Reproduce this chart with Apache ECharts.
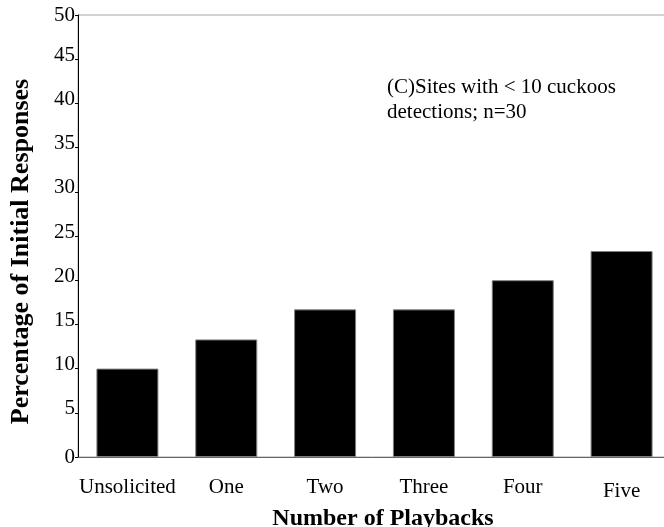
<!DOCTYPE html>
<html>
<head>
<meta charset="utf-8">
<script src="https://cdn.jsdelivr.net/npm/echarts@6/dist/echarts.min.js"></script>
<style>html,body{margin:0;padding:0;background:#fff}#c{width:664px;height:527px}</style>
</head>
<body>
<div id="c"></div>
<script>
const categories = ['Unsolicited', 'One', 'Two', 'Three', 'Four', 'Five'];
const percentages = [10.0, 13.3, 16.7, 16.7, 20.0, 23.3];
const yTicks = [0, 5, 10, 15, 20, 25, 30, 35, 40, 45, 50];
const annotation = ['(C)Sites with < 10 cuckoos', 'detections; n=30'];
const xName = 'Number of Playbacks';
const yName = 'Percentage of Initial Responses';

const serif = '"Liberation Serif", "DejaVu Serif", serif';
const chart = echarts.init(document.getElementById('c'), null, {renderer: 'canvas'});
chart.setOption({
  animation: false,
  backgroundColor: '#fff',
  grid: {
    left: 78, top: 15, width: 593, height: 442,
    outerBoundsMode: 'none', containLabel: false,
    show: true, borderColor: '#a6a6a6', borderWidth: 1, backgroundColor: 'transparent'
  },
  xAxis: {
    type: 'category',
    data: categories,
    name: xName,
    nameLocation: 'middle',
    nameGap: 43,
    nameTextStyle: {fontFamily: serif, fontWeight: 'bold', fontSize: 24, color: '#000', padding: [0, 0, 0, 17]},
    axisLine: {lineStyle: {color: '#666', width: 1}},
    axisTick: {length: 5, lineStyle: {color: '#333'}},
    axisLabel: {
      interval: 0, fontFamily: serif, fontSize: 21, color: '#000', margin: 20,
      formatter: v => v === categories[categories.length - 1] ? '{f|' + v + '}' : v,
      rich: {f: {fontFamily: serif, fontSize: 21, color: '#000', padding: [4, 0, 0, 0]}}
    }
  },
  yAxis: {
    type: 'value',
    min: yTicks[0],
    max: yTicks[yTicks.length - 1],
    interval: yTicks[1] - yTicks[0],
    name: yName,
    nameLocation: 'middle',
    nameGap: 44,
    nameTextStyle: {fontFamily: serif, fontWeight: 'bold', fontSize: 26, color: '#000', padding: [0, 31, 0, 0]},
    splitLine: {show: false},
    axisLine: {show: true, lineStyle: {color: '#000', width: 1}},
    axisTick: {show: true, length: 3, lineStyle: {color: '#000'}},
    axisLabel: {
      fontFamily: serif, fontSize: 21, color: '#000', margin: 3,
      formatter: v => (v === yTicks[0] || v === yTicks[yTicks.length - 1]) ? '{m|' + v + '}' : '{u|' + v + '}',
      rich: {
        m: {fontFamily: serif, fontSize: 21, color: '#000'},
        u: {fontFamily: serif, fontSize: 21, color: '#000', padding: [0, 0, 8, 0]}
      }
    }
  },
  graphic: [{
    type: 'text',
    left: 387,
    top: 75,
    style: {text: annotation.join('\n'), font: '21px ' + serif, fill: '#000', lineHeight: 25}
  }],
  series: [{
    type: 'bar',
    data: percentages,
    barWidth: 62,
    itemStyle: {color: '#000', borderColor: '#808080', borderWidth: 1}
  }]
});
</script>
</body>
</html>
